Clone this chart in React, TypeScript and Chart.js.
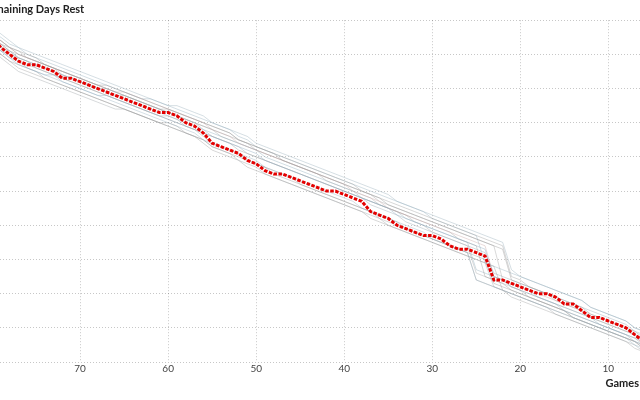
import React, { useEffect, useRef } from "react";
import { Chart, registerables } from "chart.js";

Chart.register(...registerables);

// Games remaining (x values)
const games = [
  80, 79, 78, 77, 76, 75, 74, 73, 72, 71,
  70, 69, 68, 67, 66, 65, 64, 63, 62, 61,
  60, 59, 58, 57, 56, 55, 54, 53, 52, 51,
  50, 49, 48, 47, 46, 45, 44, 43, 42, 41,
  40, 39, 38, 37, 36, 35, 34, 33, 32, 31,
  30, 29, 28, 27, 26, 25, 24, 23, 22, 21,
  20, 19, 18, 17, 16, 15, 14, 13, 12, 11,
  10, 9, 8, 7, 6,
];

const xTicks = [70, 60, 50, 40, 30, 20, 10];

// Highlighted team: remaining days of rest
const focusTeam = [
  95, 92, 90, 88, 87, 87, 86, 85, 83, 83,
  82, 81, 80, 79, 78, 77, 76, 75, 74, 73,
  73, 72, 70, 69, 67, 64, 63, 62, 61, 59,
  58, 56, 55, 55, 54, 53, 52, 51, 50, 50,
  49, 48, 47, 44, 43, 42, 40, 39, 38, 37,
  37, 36, 34, 33, 33, 32, 31, 24, 24, 23,
  22, 21, 20, 20, 19, 17, 17, 15, 13, 13,
  12, 11, 10, 8, 6,
];

// Other teams
const team1 = [
  96, 94, 92, 91, 90, 89, 87, 86, 85, 84,
  83, 82, 81, 81, 80, 79, 78, 77, 76, 75,
  74, 73, 72, 71, 70, 69, 68, 67, 65, 64,
  63, 62, 61, 59, 58, 57, 56, 55, 54, 53,
  52, 51, 50, 49, 48, 46, 45, 44, 43, 42,
  41, 40, 39, 38, 37, 36, 35, 34, 33, 24,
  23, 22, 21, 20, 19, 18, 17, 16, 14, 13,
  12, 11, 10, 9, 7,
];
const team2 = [
  94, 91, 89, 87, 86, 85, 84, 84, 82, 81,
  80, 79, 78, 78, 77, 76, 75, 74, 73, 72,
  71, 70, 69, 68, 67, 66, 65, 64, 63, 62,
  61, 59, 58, 57, 56, 55, 54, 53, 52, 51,
  50, 49, 48, 47, 46, 45, 43, 42, 41, 40,
  39, 38, 37, 36, 35, 34, 33, 25, 24, 22,
  21, 20, 19, 18, 17, 15, 14, 13, 12, 11,
  10, 9, 8, 6, 5,
];
const team3 = [
  95, 93, 91, 90, 89, 88, 87, 86, 85, 84,
  83, 82, 81, 80, 79, 78, 77, 76, 75, 74,
  73, 72, 71, 70, 69, 68, 67, 66, 65, 64,
  63, 62, 61, 60, 59, 58, 57, 56, 55, 54,
  53, 52, 50, 49, 48, 47, 46, 45, 44, 43,
  42, 41, 40, 39, 38, 37, 36, 35, 34, 25,
  24, 22, 21, 20, 18, 17, 16, 15, 13, 12,
  11, 10, 9, 8, 6,
];
const team4 = [
  93, 91, 89, 88, 86, 85, 84, 83, 82, 81,
  80, 79, 78, 77, 76, 75, 74, 73, 72, 71,
  70, 69, 68, 67, 65, 64, 63, 62, 61, 60,
  59, 57, 56, 55, 54, 53, 52, 51, 50, 49,
  48, 47, 45, 44, 43, 42, 41, 40, 39, 38,
  36, 35, 34, 33, 32, 24, 23, 22, 21, 20,
  19, 18, 17, 16, 15, 14, 13, 12, 11, 10,
  9, 8, 7, 5, 4,
];
const team5 = [
  96, 94, 92, 90, 89, 88, 87, 86, 85, 84,
  83, 82, 81, 80, 79, 79, 78, 77, 76, 75,
  74, 73, 72, 71, 70, 68, 67, 66, 64, 63,
  62, 61, 60, 59, 58, 57, 56, 55, 54, 53,
  52, 50, 49, 48, 47, 45, 44, 43, 42, 41,
  40, 39, 38, 37, 36, 35, 34, 25, 24, 23,
  22, 21, 20, 19, 18, 17, 16, 15, 14, 13,
  12, 11, 10, 8, 7,
];
const team6 = [
  94, 92, 90, 89, 88, 86, 85, 84, 83, 82,
  81, 80, 79, 78, 77, 76, 75, 74, 73, 72,
  71, 70, 69, 68, 67, 66, 65, 64, 62, 61,
  60, 59, 58, 57, 56, 55, 54, 53, 52, 51,
  50, 49, 48, 47, 46, 45, 44, 43, 42, 41,
  40, 39, 38, 36, 35, 34, 25, 24, 23, 21,
  20, 19, 18, 17, 16, 15, 13, 12, 11, 10,
  9, 8, 7, 6, 4,
];
const team7 = [
  94, 92, 91, 89, 88, 87, 86, 85, 84, 83,
  82, 81, 80, 79, 78, 77, 76, 75, 74, 73,
  72, 71, 70, 69, 68, 67, 66, 65, 64, 63,
  62, 60, 59, 58, 57, 56, 55, 54, 53, 52,
  51, 50, 48, 47, 46, 45, 44, 42, 41, 40,
  39, 38, 37, 36, 35, 27, 26, 25, 24, 23,
  22, 21, 19, 18, 17, 16, 15, 14, 13, 11,
  10, 9, 8, 7, 6,
];
const team8 = [
  95, 93, 92, 90, 89, 88, 87, 86, 84, 83,
  82, 81, 80, 79, 78, 78, 77, 76, 75, 74,
  73, 72, 71, 70, 69, 68, 66, 65, 64, 63,
  62, 61, 60, 59, 58, 57, 56, 55, 54, 53,
  52, 51, 50, 49, 47, 46, 45, 44, 43, 42,
  41, 40, 39, 38, 37, 36, 35, 34, 24, 22,
  21, 19, 18, 17, 16, 15, 13, 12, 11, 10,
  9, 8, 7, 6, 5,
];
const team9 = [
  92, 90, 88, 87, 86, 85, 83, 82, 81, 80,
  79, 78, 77, 76, 75, 74, 73, 72, 71, 70,
  69, 68, 67, 66, 65, 63, 62, 61, 60, 59,
  58, 57, 55, 54, 53, 52, 51, 50, 49, 48,
  47, 46, 45, 44, 43, 42, 41, 39, 38, 37,
  36, 35, 34, 33, 32, 31, 30, 23, 22, 21,
  20, 19, 18, 17, 16, 15, 14, 13, 12, 11,
  10, 9, 8, 7, 5,
];
const team10 = [
  96, 95, 93, 92, 90, 89, 88, 87, 86, 85,
  84, 83, 82, 81, 80, 79, 78, 77, 77, 76,
  75, 74, 73, 72, 71, 70, 69, 68, 66, 65,
  63, 62, 61, 60, 59, 58, 57, 56, 55, 54,
  53, 52, 51, 50, 49, 48, 47, 46, 45, 44,
  42, 41, 40, 39, 38, 37, 29, 28, 27, 26,
  25, 24, 23, 22, 21, 20, 19, 18, 16, 15,
  14, 13, 12, 10, 9,
];
const team11 = [
  93, 90, 88, 86, 85, 84, 83, 82, 81, 80,
  79, 78, 77, 76, 75, 74, 73, 72, 71, 70,
  70, 69, 67, 66, 64, 62, 61, 60, 59, 57,
  56, 55, 54, 53, 52, 51, 50, 49, 48, 47,
  46, 45, 44, 42, 41, 40, 39, 38, 37, 36,
  35, 34, 33, 32, 31, 30, 29, 28, 21, 20,
  19, 18, 17, 16, 15, 14, 13, 12, 11, 10,
  9, 8, 7, 6, 4,
];
const team12 = [
  95, 93, 91, 89, 88, 87, 86, 85, 84, 83,
  82, 81, 80, 80, 79, 78, 77, 76, 75, 74,
  73, 72, 71, 70, 68, 66, 65, 64, 63, 61,
  60, 59, 58, 57, 56, 55, 54, 53, 52, 51,
  50, 49, 48, 46, 45, 44, 43, 41, 40, 39,
  38, 37, 36, 35, 34, 33, 32, 26, 25, 24,
  23, 22, 21, 20, 19, 18, 17, 16, 15, 14,
  13, 12, 11, 9, 8,
];
const team13 = [
  95, 94, 92, 91, 89, 88, 87, 86, 85, 84,
  83, 82, 81, 80, 79, 78, 77, 76, 75, 74,
  74, 73, 72, 71, 70, 69, 68, 67, 65, 64,
  62, 61, 60, 59, 58, 57, 56, 55, 53, 52,
  51, 50, 49, 48, 46, 45, 44, 43, 41, 40,
  38, 37, 36, 35, 34, 26, 25, 24, 23, 22,
  21, 20, 19, 18, 17, 16, 15, 14, 13, 12,
  11, 10, 9, 8, 6,
];
const team14 = [
  92, 89, 87, 85, 84, 83, 82, 81, 80, 79,
  78, 77, 76, 75, 74, 74, 73, 72, 71, 70,
  69, 68, 67, 66, 65, 63, 62, 61, 59, 58,
  57, 55, 54, 53, 52, 51, 50, 49, 48, 47,
  46, 45, 44, 43, 42, 40, 39, 38, 37, 36,
  35, 34, 33, 32, 31, 30, 29, 22, 21, 20,
  19, 18, 17, 16, 14, 13, 12, 11, 10, 9,
  8, 7, 6, 5, 3,
];
const team15 = [
  98, 96, 94, 92, 91, 90, 89, 88, 87, 86,
  85, 84, 83, 82, 81, 80, 79, 78, 77, 76,
  75, 75, 74, 73, 72, 70, 69, 68, 67, 66,
  64, 63, 62, 61, 60, 59, 58, 57, 56, 55,
  54, 53, 52, 51, 50, 49, 47, 46, 45, 44,
  43, 42, 41, 40, 39, 38, 37, 36, 35, 27,
  25, 24, 23, 22, 21, 20, 19, 18, 16, 15,
  14, 13, 12, 10, 9,
];
const team16 = [
  94, 91, 90, 88, 87, 86, 85, 84, 83, 82,
  81, 80, 79, 78, 77, 76, 75, 74, 73, 72,
  72, 71, 69, 68, 66, 64, 63, 62, 61, 59,
  58, 57, 56, 55, 54, 52, 51, 50, 49, 48,
  47, 46, 45, 44, 42, 41, 40, 39, 38, 37,
  36, 35, 34, 33, 32, 24, 23, 22, 21, 19,
  18, 17, 16, 15, 14, 13, 12, 11, 10, 9,
  8, 7, 6, 4, 3,
];

const otherTeams = [
  team1, team2, team3, team4, team5, team6, team7, team8,
  team9, team10, team11, team12, team13, team14, team15, team16,
];
const otherColors = [
  "rgba(150,150,150,0.42)",
  "rgba(140,170,190,0.42)",
  "rgba(160,160,160,0.42)",
  "rgba(150,175,190,0.40)",
  "rgba(200,165,165,0.40)",
  "rgba(155,155,155,0.42)",
  "rgba(140,170,185,0.40)",
  "rgba(165,165,165,0.42)",
  "rgba(150,150,150,0.40)",
  "rgba(145,172,188,0.40)",
  "rgba(160,160,160,0.42)",
  "rgba(150,165,175,0.40)",
  "rgba(170,170,170,0.42)",
  "rgba(155,160,165,0.40)",
  "rgba(150,172,186,0.40)",
  "rgba(165,165,165,0.42)",
];

const FONT = "Lato, 'Open Sans', sans-serif";
const CROP = 18;

const gamesLabel = {
  id: "gamesLabel",
  afterDraw(chart: any) {
    const { ctx, chartArea, height } = chart;
    ctx.save();
    ctx.font = `bold 11px ${FONT}`;
    ctx.fillStyle = "#222";
    ctx.textAlign = "right";
    ctx.textBaseline = "middle";
    ctx.fillText("Games", chartArea.right - 1, height - 16.4);
    ctx.restore();
  },
};

export default function App() {
  const ref = useRef<HTMLCanvasElement | null>(null);

  useEffect(() => {
    if (!ref.current) return;
    const toPts = (vals: number[]) => vals.map((v, i) => ({ x: games[i], y: v }));
    const datasets: any[] = otherTeams.map((vals, i) => ({
      data: toPts(vals),
      borderColor: otherColors[i],
      borderWidth: 1,
      pointRadius: 0,
      fill: false,
      tension: 0,
      order: 2,
    }));
    datasets.push({
      data: toPts(focusTeam),
      borderColor: "rgb(228,0,0)",
      borderWidth: 3,
      borderDash: [3.5, 1.5],
      pointRadius: 0,
      fill: false,
      tension: 0,
      order: 1,
    });

    const chart = new Chart(ref.current, {
      type: "line",
      data: { datasets },
      plugins: [gamesLabel],
      options: {
        animation: false,
        responsive: false,
        maintainAspectRatio: false,
        layout: { padding: { left: 0, right: 0, top: 0, bottom: 24 } },
        plugins: {
          legend: { display: false },
          tooltip: { enabled: false },
          title: {
            display: true,
            text: "Remaining Days Rest",
            align: "start",
            color: "#222",
            font: { family: FONT, size: 11, weight: "bold" },
            padding: { top: 3, bottom: 4 },
          },
        },
        scales: {
          x: {
            type: "linear",
            reverse: true,
            min: 6.4,
            max: 79.1,
            afterBuildTicks: (scale: any) => {
              scale.ticks = xTicks.map((v) => ({ value: v }));
            },
            ticks: {
              color: "#444",
              font: { family: FONT, size: 10 },
              padding: 1,
              maxRotation: 0,
              callback: (v: any) => String(v),
            },
            grid: {
              color: "rgba(0,0,0,0.22)",
              lineWidth: 1,
              drawTicks: false,
            },
            border: { display: false, dash: [1, 2] },
          },
          y: {
            min: 0,
            max: 100,
            ticks: { display: false, stepSize: 10 },
            grid: {
              color: "rgba(0,0,0,0.22)",
              lineWidth: 1,
              drawTicks: false,
            },
            border: { display: false, dash: [1, 2] },
            afterFit: (scale: any) => {
              scale.width = CROP;
            },
          },
        },
      },
    });
    return () => chart.destroy();
  }, []);

  return (
    <div
      style={{
        position: "fixed",
        left: 0,
        top: 0,
        width: 640,
        height: 400,
        overflow: "hidden",
        background: "#fff",
      }}
    >
      <canvas
        ref={ref}
        width={640 + CROP}
        height={400}
        style={{ position: "absolute", left: -CROP, top: 0, width: 640 + CROP, height: 400 }}
      />
    </div>
  );
}
